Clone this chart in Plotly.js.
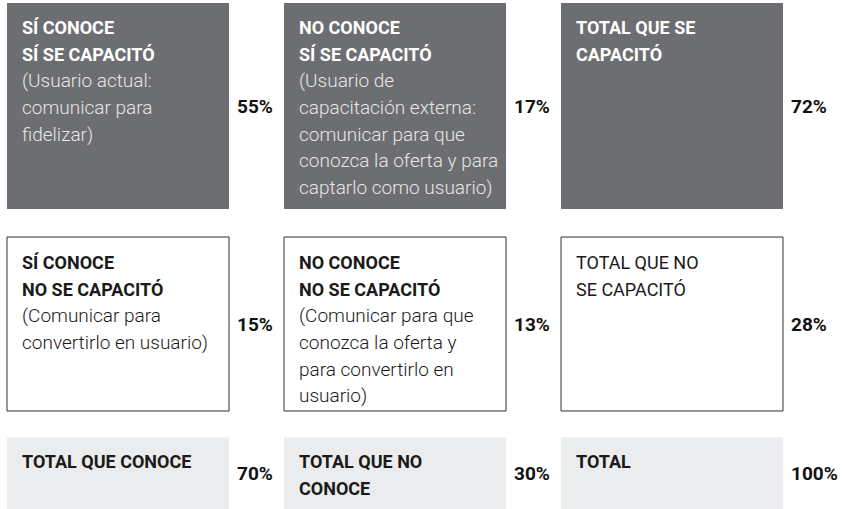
<!DOCTYPE html>
<html>
<head>
<meta charset="utf-8">
<script src="https://cdn.plot.ly/plotly-3.0.1.min.js"></script>
<style>html,body{margin:0;padding:0;background:#fff;}#chart{width:842px;height:509px;}</style>
</head>
<body>
<div id="chart"></div>
<script>
// ---- data ----
const rowNames = ["Se capacitó", "No se capacitó", "Total"];
const colNames = ["Conoce", "No conoce", "Total"];
const titles = [
  ["SÍ CONOCE<br>SÍ SE CAPACITÓ", "NO CONOCE<br>SÍ SE CAPACITÓ", "TOTAL QUE SE<br>CAPACITÓ"],
  ["SÍ CONOCE<br>NO SE CAPACITÓ", "NO CONOCE<br>NO SE CAPACITÓ", "TOTAL QUE NO<br>SE CAPACITÓ"],
  ["TOTAL QUE CONOCE", "TOTAL QUE NO<br>CONOCE", "TOTAL"]
];
const notes = [
  ["(Usuario actual:<br>comunicar para<br>fidelizar)",
   "(Usuario de<br>capacitación externa:<br>comunicar para que<br>conozca la oferta y para<br>captarlo como usuario)",
   ""],
  ["(Comunicar para<br>convertirlo en usuario)",
   "(Comunicar para que<br>conozca la oferta y<br>para convertirlo en<br>usuario)",
   ""],
  ["", "", ""]
];
const percents = [
  [55, 17, 72],
  [15, 13, 28],
  [70, 30, 100]
];

// ---- layout geometry (pixel-unit axes) ----
const colLeft = [7, 284, 561];
const cellW = 222;
const rowTop = [3, 237, 437.5];
const rowBottom = [209, 411, 509];
const titleOffset = [12, 13, 11];

const rowStyle = [
  {fill: "#6d6e71", line: "rgba(0,0,0,0)", titleColor: "#ffffff", noteColor: "#e6e6e6", titleBold: [true, true, true]},
  {fill: "#ffffff", line: "#2e2e2e", titleColor: "#1a1a1a", noteColor: "#1a1a1a", titleBold: [true, true, false]},
  {fill: "#ebeced", line: "rgba(0,0,0,0)", titleColor: "#1a1a1a", noteColor: "#1a1a1a", titleBold: [true, true, true]}
];

const shapes = [];
const annotations = [];
const FONT = "Roboto, 'Open Sans', sans-serif";

for (let r = 0; r < 3; r++) {
  for (let c = 0; c < 3; c++) {
    const st = rowStyle[r];
    shapes.push({
      type: "rect", xref: "x", yref: "y",
      x0: colLeft[c], x1: colLeft[c] + cellW,
      y0: rowTop[r], y1: rowBottom[r],
      fillcolor: st.fill,
      line: {color: st.line, width: r === 1 ? 1 : 0},
      layer: "below"
    });
    const w = st.titleBold[c] ? 700 : 400;
    const open = '<span style="font-size:18px;font-weight:' + w + ';fill:' + st.titleColor + '">';
    let txt = titles[r][c].split("<br>").map(function (s) { return open + s + '</span>'; }).join("<br>");
    if (notes[r][c]) {
      txt += "<br>" + notes[r][c].split("<br>").map(function (s) {
        return '<span style="font-size:19px;font-weight:300;fill:' + st.noteColor + '">' + s + '</span>';
      }).join("<br>");
    }
    annotations.push({
      xref: "x", yref: "y",
      x: colLeft[c] + 13, y: rowTop[r] + titleOffset[r],
      xanchor: "left", yanchor: "top", align: "left",
      showarrow: false, text: txt,
      font: {family: FONT, size: 20.5, color: st.titleColor}
    });
    annotations.push({
      xref: "x", yref: "y",
      x: colLeft[c] + cellW + 6, y: (rowTop[r] + rowBottom[r]) / 2,
      xanchor: "left", yanchor: "middle",
      showarrow: false, text: "<b>" + percents[r][c] + "%</b>",
      font: {family: FONT, size: 19, color: "#111111"}
    });
  }
}

const layout = {
  width: 842, height: 509,
  margin: {l: 0, r: 0, t: 0, b: 0, pad: 0},
  paper_bgcolor: "#ffffff", plot_bgcolor: "#ffffff",
  xaxis: {range: [0, 842], visible: false, fixedrange: true},
  yaxis: {range: [509, 0], visible: false, fixedrange: true},
  showlegend: false,
  shapes: shapes,
  annotations: annotations
};

Plotly.newPlot("chart", [{type: "scatter", x: [], y: [], mode: "markers", hoverinfo: "skip"}], layout,
  {displayModeBar: false, staticPlot: true});
</script>
</body>
</html>
